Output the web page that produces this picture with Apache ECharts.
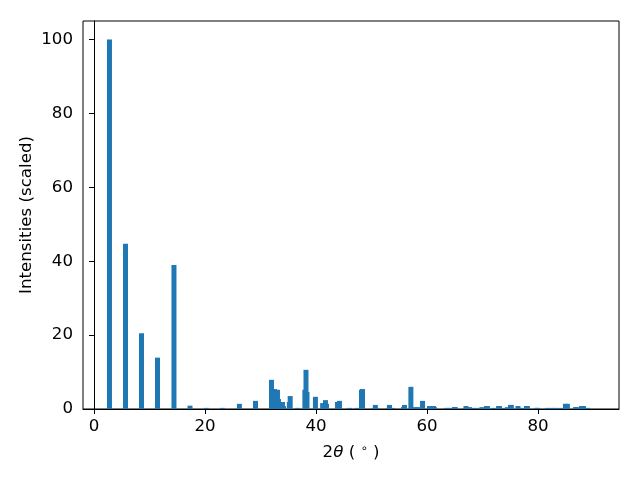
<!DOCTYPE html>
<html>
<head>
<meta charset="utf-8">
<script src="https://cdn.jsdelivr.net/npm/echarts@6/dist/echarts.min.js"></script>
<style>html,body{margin:0;padding:0;background:#fff}#c{width:640px;height:480px}</style>
</head>
<body>
<div id="c"></div>
<script>
// Peak positions (2θ, degrees) and scaled intensities
const twoTheta = [
  2.79, 5.68, 8.56, 11.44, 14.41, 17.3, 20.27, 23.15, 26.2, 29.1,
  31.98, 32.52, 33.06, 33.24, 33.96, 34.14, 35.2, 35.35, 36.67,
  38.0, 38.2, 38.38, 39.9, 41.2, 41.71, 41.89, 43.87, 44.23, 46.04,
  47.48, 48.2, 48.38, 50.5, 50.7, 50.9, 53.06, 53.24, 53.78, 55.77, 55.95,
  57.1, 57.9, 58.3, 59.2, 60.45, 61.17, 61.35, 63.5, 64.1, 64.95, 65.1,
  66.94, 67.03, 67.66, 68.2, 68.92, 69.9, 70.72, 70.9, 71.98, 72.9, 73.06, 73.6,
  74.5, 75.05, 75.2, 76.4, 77.0, 77.93, 78.1, 79.7, 79.9,
  81.7, 82.4, 83.1, 84.0, 84.95, 85.3, 86.76, 86.94, 87.84, 88.2, 88.92
];
const intensity = [
  100, 44.7, 20.5, 13.9, 39.0, 0.9, 0.3, 0.3, 1.4, 2.2,
  7.9, 5.4, 5.2, 2.7, 1.9, 0.8, 1.9, 3.5, 0.3,
  5.2, 10.6, 4.6, 3.3, 1.6, 2.4, 1.4, 1.9, 2.2, 0.3,
  0.3, 5.2, 5.4, 0.3, 1.1, 0.3, 0.3, 1.1, 0.3, 0.5, 1.1,
  6.0, 0.5, 0.5, 2.2, 0.8, 0.8, 0.5, 0.3, 0.3, 0.5, 0.5,
  0.3, 0.8, 0.5, 0.3, 0.3, 0.5, 0.8, 0.8, 0.3, 0.8, 0.8, 0.3,
  0.5, 1.1, 1.1, 0.8, 0.3, 0.8, 0.8, 0.3, 0.3,
  0.3, 0.3, 0.3, 0.3, 1.4, 1.4, 0.5, 0.5, 0.8, 0.8, 0.3
];
const xTicks = [0, 20, 40, 60, 80];
const yTicks = [0, 20, 40, 60, 80, 100];
const BAR_W = 0.9;

const FONT = 'DejaVu Sans';
const FS = 16.67;
const chart = echarts.init(document.getElementById('c'), null, {renderer: 'canvas'});
const data = twoTheta.map((x, i) => [x, intensity[i]]);

chart.setOption({
  animation: false,
  backgroundColor: '#fff',
  grid: {left: 83, right: 21, top: 21, bottom: 71, show: true, borderColor: '#000', borderWidth: 1, backgroundColor: 'transparent'},
  xAxis: {
    type: 'value', min: -1.98, max: 94.6,
    name: '{n|2}{i|θ}{n| ( }{s|∘}{n| )}',
    nameLocation: 'middle', nameGap: 34, nameMoveOverlap: false,
    nameTextStyle: {
      rich: {
        n: {fontFamily: FONT, fontSize: FS, color: '#000', lineHeight: 20},
        i: {fontFamily: FONT, fontSize: FS, fontStyle: 'italic', color: '#000', lineHeight: 20},
        s: {fontFamily: FONT, fontSize: 11.5, color: '#000', verticalAlign: 'top', lineHeight: 12}
      }
    },
    axisLine: {show: true, lineStyle: {color: '#000', width: 1}},
    axisTick: {show: true, length: 5, lineStyle: {color: '#000', width: 1}, customValues: xTicks},
    axisLabel: {show: true, margin: 9, color: '#000', fontFamily: FONT, fontSize: FS, customValues: xTicks},
    splitLine: {show: false}
  },
  yAxis: {
    type: 'value', min: 0, max: 105,
    name: 'Intensities (scaled)',
    nameLocation: 'middle', nameGap: 48, nameMoveOverlap: false,
    nameTextStyle: {fontFamily: FONT, fontSize: FS, color: '#000'},
    axisLine: {show: true, lineStyle: {color: '#000', width: 1}},
    axisTick: {show: true, length: 5, lineStyle: {color: '#000', width: 1}, customValues: yTicks},
    axisLabel: {show: true, margin: 10, color: '#000', fontFamily: FONT, fontSize: FS, customValues: yTicks},
    splitLine: {show: false}
  },
  series: [{
    type: 'custom',
    clip: true,
    data: data,
    encode: {x: 0, y: 1},
    renderItem: function (params, api) {
      const x = api.value(0), h = api.value(1);
      const p0 = api.coord([x - BAR_W / 2, h]);
      const p1 = api.coord([x + BAR_W / 2, 0]);
      return {
        type: 'rect',
        shape: {x: p0[0], y: p0[1], width: p1[0] - p0[0], height: p1[1] - p0[1]},
        style: {fill: '#1f77b4'}
      };
    }
  }]
});
</script>
</body>
</html>
